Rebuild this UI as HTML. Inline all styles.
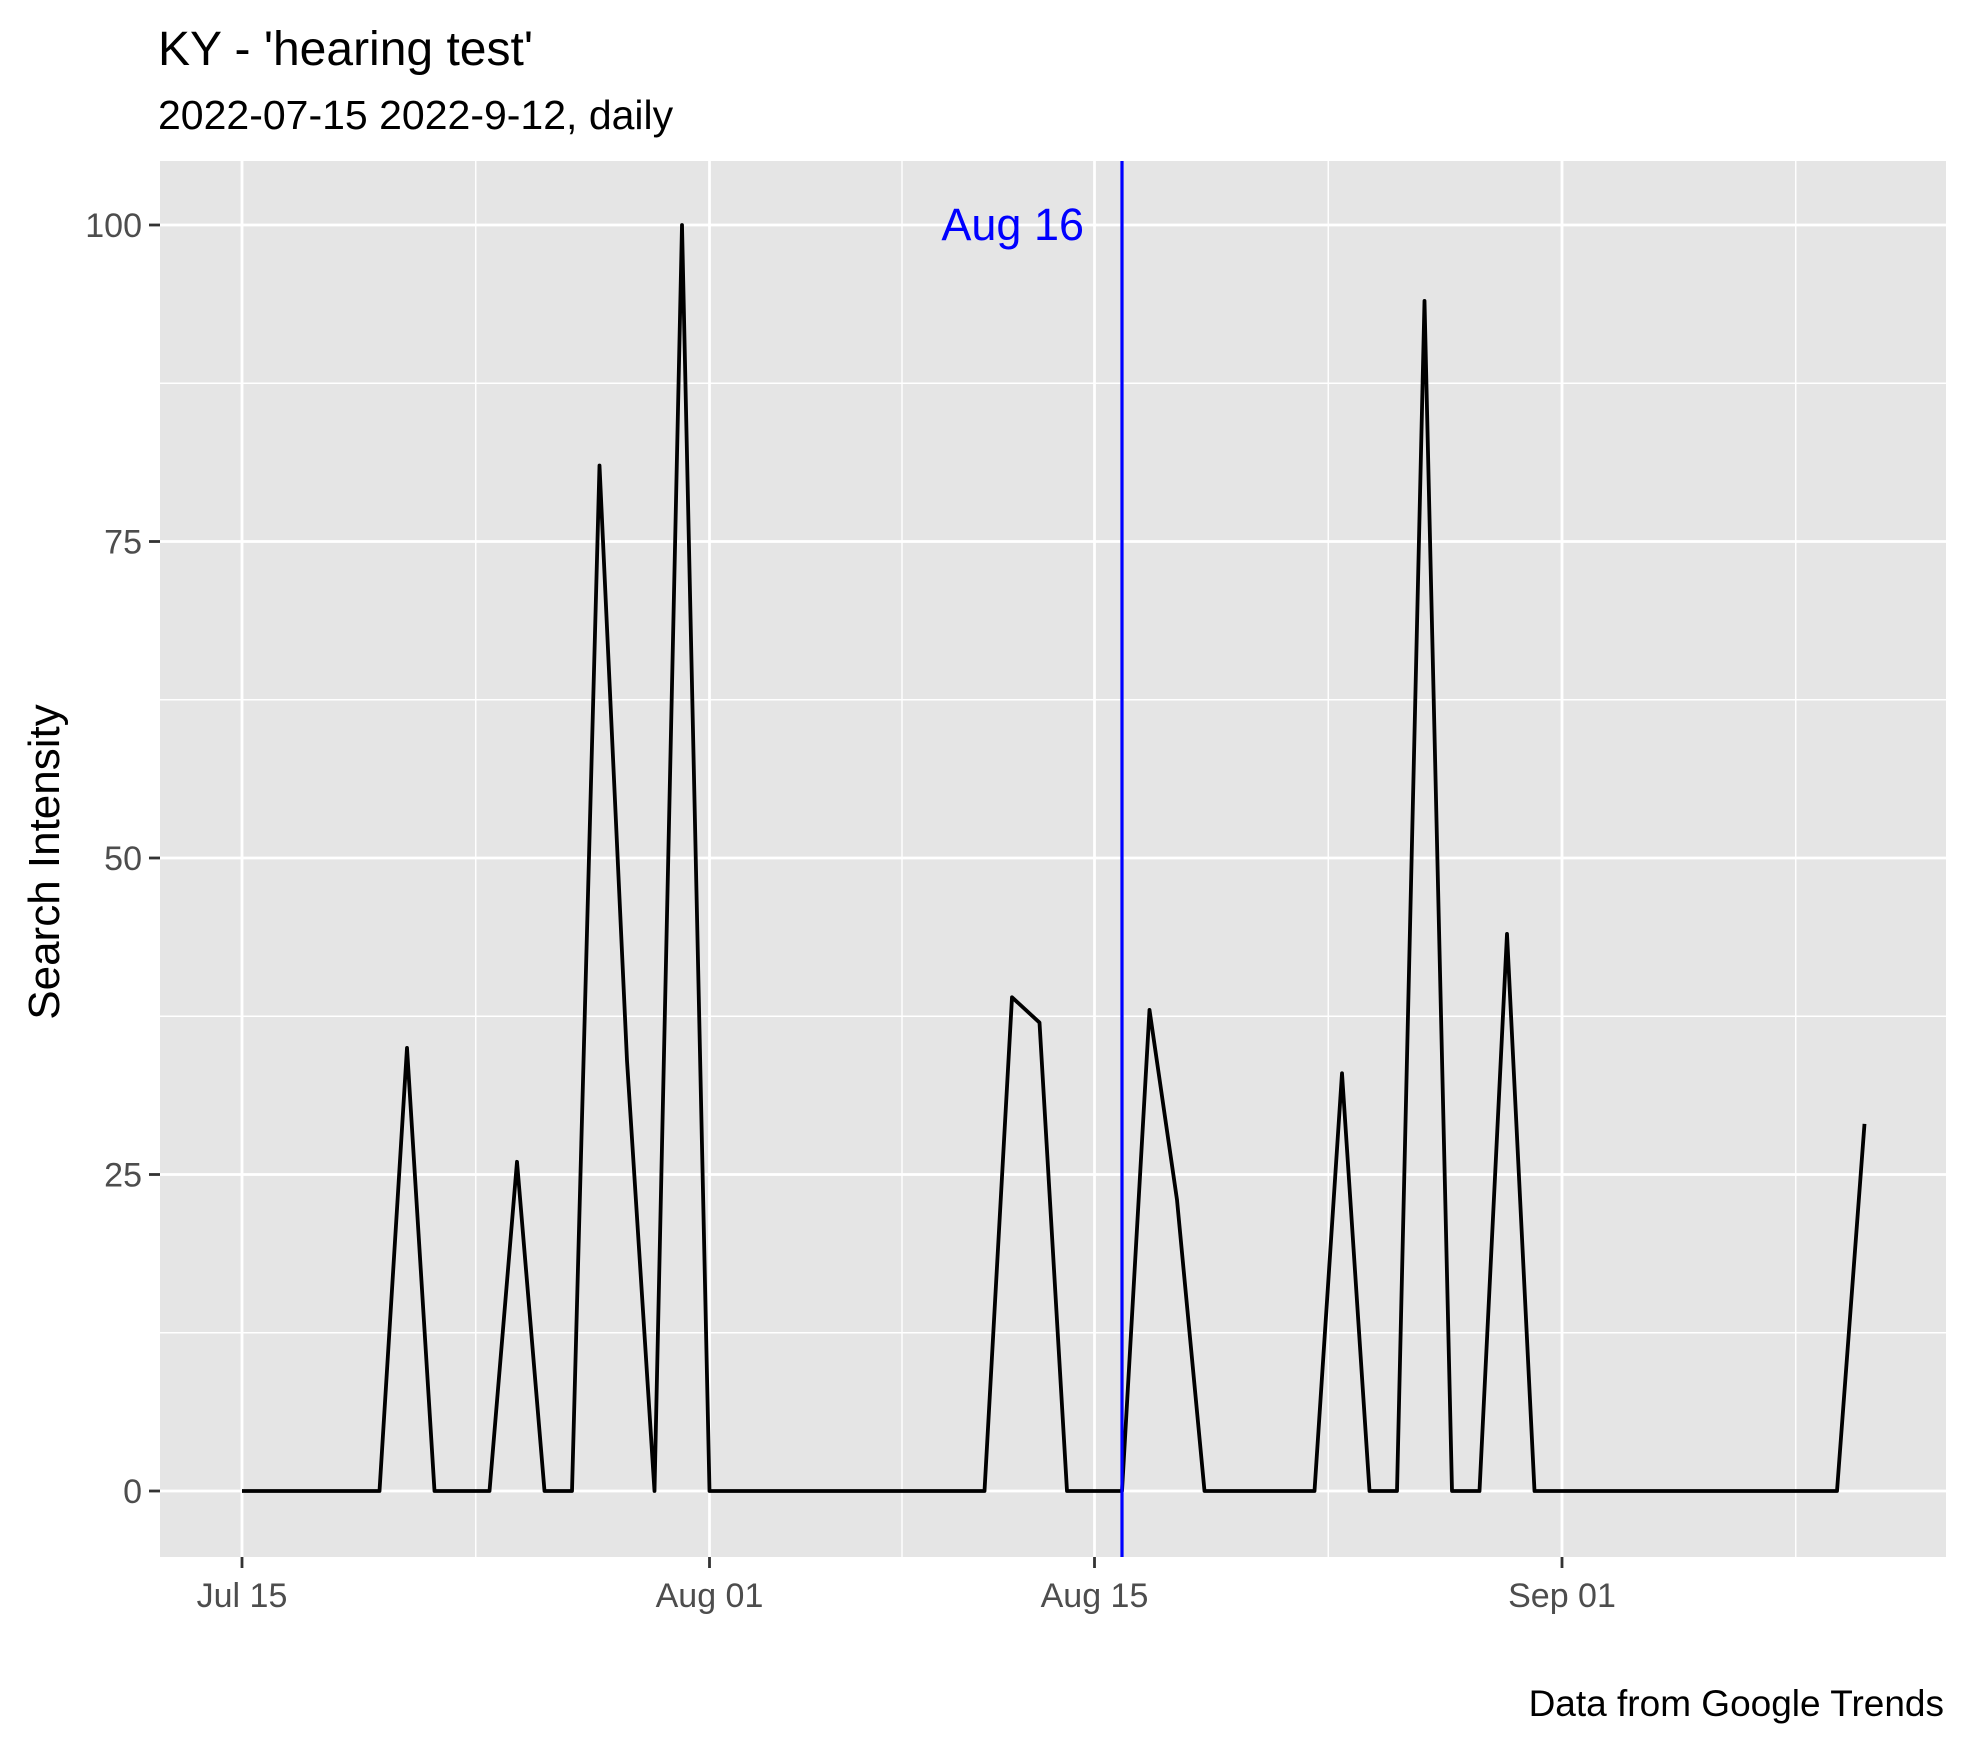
<!DOCTYPE html>
<html><head><meta charset="utf-8"><style>
body{margin:0;background:#fff}
svg{display:block;font-family:"Liberation Sans",Arial,sans-serif}
</style></head><body>
<svg id="chart" width="1966" height="1741" viewBox="0 0 1966 1741">
<text x="158" y="65" font-size="48" fill="#000">KY  - 'hearing test'</text>
<text x="158" y="129" font-size="41" fill="#000">2022-07-15 2022-9-12, daily</text>
<rect x="160" y="161" width="1786" height="1396" fill="#e5e5e5"/>
<g id="grid"></g>
<g id="axes"></g>
<g id="series"></g>
<text x="44" y="862" font-size="44" fill="#000" text-anchor="middle" transform="rotate(-90 44 862)" dy="15">Search Intensity</text>
<text x="1944" y="1716" font-size="37" fill="#000" text-anchor="end">Data from Google Trends</text>
</svg>
<script>
const startDate = "2022-07-15";
const values = [0,0,0,0,0,0,35,0,0,0,26,0,0,81,34,0,100,0,0,0,0,0,0,0,0,0,0,0,39,37,0,0,0,38,23,0,0,0,0,0,33,0,0,94,0,0,44,0,0,0,0,0,0,0,0,0,0,0,0,29];
const yTicks = [0,25,50,75,100];
const xTickDays = [0,17,31,48];
const xTickLabels = ["Jul 15","Aug 01","Aug 15","Sep 01"];
const xMinorDays = [8.5,24,39.5,56.5];
const markerDay = 32;
const markerLabel = "Aug 16";

const NS="http://www.w3.org/2000/svg";
const X0=242, DX=27.5, Y0=1491, DY=12.66, PL=160, PR=1946, PT=161, PB=1557;
const xs=d=>X0+d*DX, ys=v=>Y0-v*DY;
function mk(tag,attrs,parent){const e=document.createElementNS(NS,tag);for(const k in attrs)e.setAttribute(k,attrs[k]);parent.appendChild(e);return e;}
const grid=document.getElementById('grid'), axes=document.getElementById('axes'), series=document.getElementById('series');
for(let i=0;i<yTicks.length-1;i++){const v=(yTicks[i]+yTicks[i+1])/2;
 const l=mk('line',{x1:PL,x2:PR,y1:ys(v),y2:ys(v),stroke:'#fff','stroke-width':1.4},grid);
 
 }
xMinorDays.forEach(d=>{const l=mk('line',{x1:xs(d),x2:xs(d),y1:PT,y2:PB,stroke:'#fff','stroke-width':1.4},grid);
 
 });
yTicks.forEach(v=>{const l=mk('line',{x1:PL,x2:PR,y1:ys(v),y2:ys(v),stroke:'#fff','stroke-width':2.8},grid);
 
 
 const t=mk('line',{x1:PL-11,x2:PL,y1:ys(v),y2:ys(v),stroke:'#333','stroke-width':2.8},axes);
 
 
 const tx=mk('text',{x:PL-18,y:ys(v)+12,'font-size':34,fill:'#4d4d4d','text-anchor':'end'},axes);
 tx.textContent=v;
 
 });
xTickDays.forEach((d,i)=>{const l=mk('line',{x1:xs(d),x2:xs(d),y1:PT,y2:PB,stroke:'#fff','stroke-width':2.8},grid);
 
 
 const t=mk('line',{x1:xs(d),x2:xs(d),y1:PB,y2:PB+11,stroke:'#333','stroke-width':2.8},axes);
 
 
 const tx=mk('text',{x:xs(d),y:PB+50,'font-size':34,fill:'#4d4d4d','text-anchor':'middle'},axes);
 tx.textContent=xTickLabels[i];
 
 });
const p=mk('polyline',{points:values.map((v,i)=>xs(i)+','+ys(v)).join(' '),fill:'none',stroke:'#000','stroke-width':3.8,'stroke-linejoin':'round'},series);


const m=mk('line',{x1:xs(markerDay),x2:xs(markerDay),y1:PT,y2:PB,stroke:'#0000ff','stroke-width':3.2},series);


const ml=mk('text',{x:xs(markerDay)-38,y:ys(100)+15,'font-size':45,fill:'#0000ff','text-anchor':'end'},series);
ml.textContent=markerLabel;


</script>
</body></html>
